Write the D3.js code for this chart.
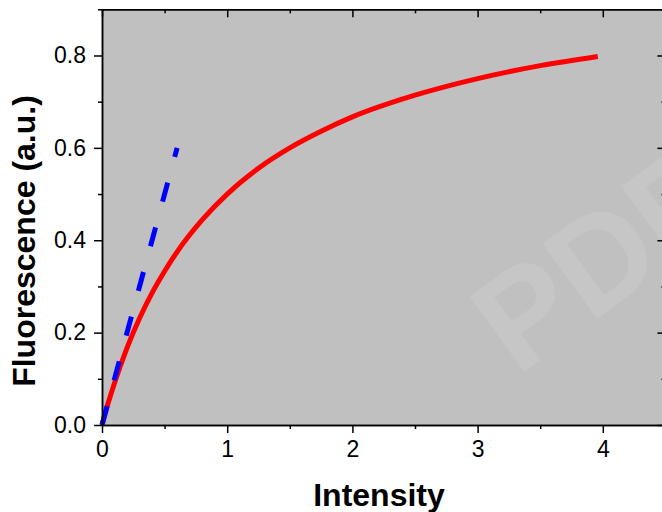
<!DOCTYPE html>
<html>
<head>
<meta charset="utf-8">
<script src="https://cdn.jsdelivr.net/npm/d3@7"></script>
<style>
  body { margin: 0; background: #fff; }
  svg { display: block; font-family: "Liberation Sans", Arial, sans-serif; }
</style>
</head>
<body>
<svg id="chart"></svg>
<script>
'use strict';

const WIDTH = 662;
const HEIGHT = 512;

// values
const fitX = [0, 0.05, 0.1, 0.2, 0.3, 0.4, 0.5, 0.6, 0.8, 1.0, 1.25, 1.5, 1.75, 2.0, 2.5, 3.0, 3.5, 3.96];
const fitY = [0, 0.048, 0.091, 0.167, 0.231, 0.286, 0.333, 0.375, 0.444, 0.5, 0.556, 0.6, 0.636, 0.667, 0.714, 0.75, 0.778, 0.798];
const linX = [0, 0.6];
const linY = [0, 0.6];

const xMajor = [0, 1, 2, 3, 4];
const xMinor = [0.5, 1.5, 2.5, 3.5, 4.5];
const yMajor = [0, 0.2, 0.4, 0.6, 0.8];
const yMinor = [0.1, 0.3, 0.5, 0.7, 0.9];

const COLOR = {
    BG: '#c0c0c0',
    FIT: '#ff0000',
    LIN: '#0000ff',
    MARK: '#c6c6c6'
};

const svg = d3.select('#chart').attr('width', WIDTH).attr('height', HEIGHT);

const x = d3.scaleLinear().domain([0, 4.5]).range([102, 665.4]);
const y = d3.scaleLinear().domain([0, 0.9]).range([425, 9.3]);

// plot background
svg.append('rect')
    .attr('x', x(0)).attr('y', y(0.9))
    .attr('width', x(4.5) - x(0)).attr('height', y(0) - y(0.9))
    .attr('fill', COLOR.BG);

// watermark (runs off the right edge, as in the original)
svg.append('text')
    .attr('transform', 'translate(517,377) rotate(-36)')
    .attr('font-size', 135)
    .attr('font-weight', 'bold')
    .attr('fill', COLOR.MARK)
    .text('PDF');

const line = d3.line()
    .x(function(d) { return x(d[0]); })
    .y(function(d) { return y(d[1]); });

svg.append('path')
    .datum(d3.zip(fitX, fitY))
    .attr('d', line.curve(d3.curveMonotoneX))
    .attr('fill', 'none')
    .attr('stroke', COLOR.FIT)
    .attr('stroke-width', 5);

svg.append('path')
    .datum(d3.zip(linX, linY))
    .attr('d', line.curve(d3.curveLinear))
    .attr('fill', 'none')
    .attr('stroke', COLOR.LIN)
    .attr('stroke-width', 5)
    .attr('stroke-dasharray', '19.6,26.7');

// axes: outward on bottom/left, inward on top/right
function drawAxis(axis, tx, ty, labels) {
    const g = svg.append('g')
        .attr('transform', 'translate(' + tx + ',' + ty + ')')
        .call(axis);
    g.selectAll('path, line').attr('stroke', '#000').attr('stroke-width', 1.5);
    if (!labels) g.selectAll('text').remove();
    return g;
}

const fmtX = d3.format('d');
const fmtY = d3.format('.1f');

drawAxis(d3.axisBottom(x).tickValues(xMinor).tickSize(4).tickSizeOuter(0), 0, y(0), false);
drawAxis(d3.axisTop(x).tickValues(xMinor).tickSize(-4).tickSizeOuter(0), 0, y(0.9), false);
drawAxis(d3.axisLeft(y).tickValues(yMinor).tickSize(4).tickSizeOuter(0), x(0), 0, false);
drawAxis(d3.axisRight(y).tickValues(yMinor).tickSize(-4).tickSizeOuter(0), x(4.5), 0, false);

const bottom = drawAxis(d3.axisBottom(x).tickValues(xMajor).tickFormat(fmtX).tickSize(8).tickSizeOuter(0).tickPadding(8), 0, y(0), true);
bottom.selectAll('text').attr('font-size', 23).attr('fill', '#000').attr('font-family', null);

const left = drawAxis(d3.axisLeft(y).tickValues(yMajor).tickFormat(fmtY).tickSize(8).tickSizeOuter(0).tickPadding(8), x(0), 0, true);
left.selectAll('text').attr('font-size', 23).attr('fill', '#000').attr('font-family', null);

drawAxis(d3.axisTop(x).tickValues(xMajor).tickSize(-8).tickSizeOuter(0), 0, y(0.9), false);
drawAxis(d3.axisRight(y).tickValues(yMajor).tickSize(-8).tickSizeOuter(0), x(4.5), 0, false);

// titles
svg.append('text')
    .attr('x', 379).attr('y', 506)
    .attr('text-anchor', 'middle')
    .attr('font-size', 32)
    .attr('font-weight', 'bold')
    .text('Intensity');

svg.append('text')
    .attr('transform', 'translate(35,241) rotate(-90)')
    .attr('text-anchor', 'middle')
    .attr('font-size', 32)
    .attr('font-weight', 'bold')
    .text('Fluorescence (a.u.)');
</script>
</body>
</html>
